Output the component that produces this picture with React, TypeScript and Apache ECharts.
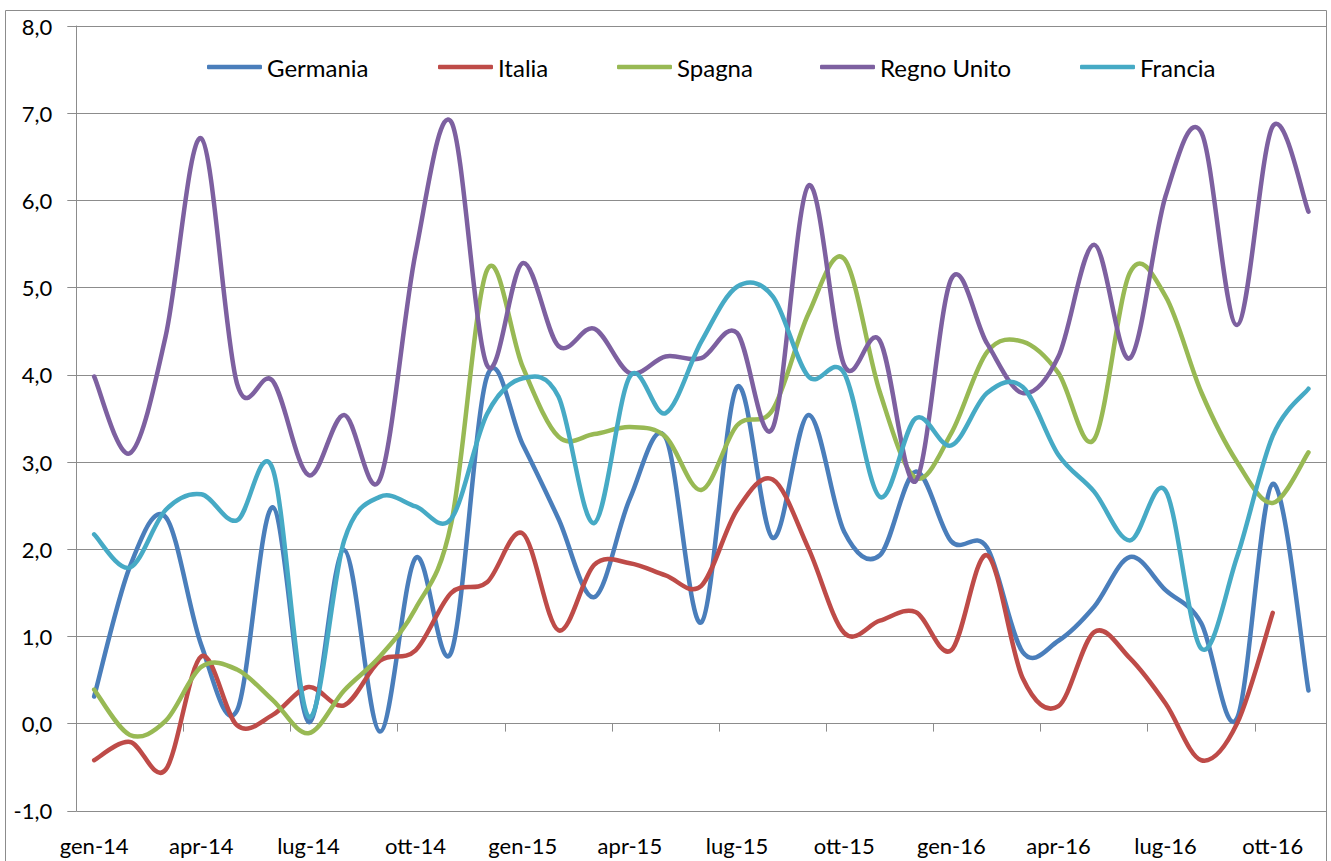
import React, { useEffect, useRef } from "react";
import * as echarts from "echarts";

const months = ["gen", "feb", "mar", "apr", "mag", "giu", "lug", "ago", "set", "ott", "nov", "dic"];
const categories: string[] = [];
for (const yy of ["14", "15", "16"]) for (const m of months) categories.push(`${m}-${yy}`);
categories.splice(35);

const seriesNames = ["Germania", "Italia", "Spagna", "Regno Unito", "Francia"];
const seriesColors = ["#4A7EBB", "#BE4B48", "#98B954", "#7D60A0", "#46AAC5"];

const germania = [0.31, 1.8, 2.37, 0.9, 0.15, 2.48, 0.02, 1.99, -0.09, 1.9, 0.82, 3.98, 3.2, 2.35, 1.45, 2.58, 3.28, 1.16, 3.86, 2.13, 3.54, 2.2, 1.93, 2.89, 2.09, 2.02, 0.82, 0.95, 1.34, 1.91, 1.53, 1.15, 0.06, 2.75, 0.38];
const italia = [-0.42, -0.21, -0.53, 0.77, -0.02, 0.1, 0.42, 0.21, 0.72, 0.84, 1.5, 1.62, 2.18, 1.07, 1.82, 1.84, 1.7, 1.58, 2.45, 2.8, 2.01, 1.04, 1.18, 1.28, 0.84, 1.93, 0.52, 0.2, 1.05, 0.75, 0.23, -0.42, 0.0, 1.27, null];
const spagna = [0.39, -0.13, 0.03, 0.65, 0.62, 0.27, -0.11, 0.38, 0.77, 1.32, 2.3, 5.2, 4.09, 3.29, 3.32, 3.4, 3.29, 2.68, 3.42, 3.6, 4.7, 5.33, 3.8, 2.82, 3.33, 4.26, 4.38, 4.02, 3.26, 5.17, 4.9, 3.8, 3.0, 2.53, 3.11];
const regnoUnito = [3.98, 3.1, 4.44, 6.71, 3.9, 3.93, 2.85, 3.54, 2.8, 5.4, 6.9, 4.11, 5.28, 4.33, 4.53, 4.02, 4.21, 4.19, 4.48, 3.39, 6.17, 4.11, 4.39, 2.78, 5.1, 4.36, 3.79, 4.21, 5.49, 4.19, 6.05, 6.78, 4.57, 6.85, 5.87];
const francia = [2.17, 1.79, 2.45, 2.63, 2.33, 2.92, 0.08, 2.1, 2.6, 2.49, 2.35, 3.55, 3.96, 3.75, 2.3, 3.98, 3.56, 4.38, 5.01, 4.9, 3.98, 4.02, 2.6, 3.5, 3.19, 3.79, 3.86, 3.08, 2.66, 2.1, 2.67, 0.86, 1.91, 3.3, 3.84];
const seriesData: (number | null)[][] = [germania, italia, spagna, regnoUnito, francia];

const yMin = -1;
const yMax = 8;
const yStep = 1;

const legendLeft = [207, 438, 617, 820, 1080];

const FONT = "Lato, Carlito, Calibri, 'DejaVu Sans', sans-serif";
const GRAY = "#8c8c8c";

// Catmull-Rom style smoothing (like a spreadsheet's smoothed line), through the axis scales
function smoothPath(pts: number[][]): string {
  if (pts.length === 0) return "";
  let d = `M${pts[0][0]},${pts[0][1]}`;
  for (let i = 0; i < pts.length - 1; i++) {
    const p0 = pts[i - 1] || pts[i];
    const p1 = pts[i];
    const p2 = pts[i + 1];
    const p3 = pts[i + 2] || pts[i + 1];
    const c1x = p1[0] + (p2[0] - p0[0]) / 6;
    const c1y = p1[1] + (p2[1] - p0[1]) / 6;
    const c2x = p2[0] - (p3[0] - p1[0]) / 6;
    const c2y = p2[1] - (p3[1] - p1[1]) / 6;
    d += ` C${c1x},${c1y} ${c2x},${c2y} ${p2[0]},${p2[1]}`;
  }
  return d;
}

export default function App() {
  const ref = useRef<HTMLDivElement>(null);
  useEffect(() => {
    if (!ref.current) return;
    const chart = echarts.init(ref.current, undefined, { renderer: "svg" });
    chart.setOption({
      animation: false,
      backgroundColor: "#ffffff",
      graphic: [
        {
          type: "rect",
          shape: { x: 5.5, y: 10.5, width: 1321, height: 900 },
          style: { fill: "none", stroke: GRAY, lineWidth: 1 },
          silent: true,
          z: 0,
        },
      ],
      legend: seriesNames.map((name, i) => ({
        data: [{ name, itemStyle: { color: seriesColors[i] } }],
        left: legendLeft[i],
        top: 55,
        itemWidth: 55,
        itemHeight: 4.5,
        icon: "roundRect",
        itemGap: 0,
        padding: 0,
        textStyle: { fontFamily: FONT, fontSize: 24, color: "#000" },
      })),
      grid: { left: 76.3, right: 4.7, top: 26, bottom: 50.2, containLabel: false },
      xAxis: [
        {
          type: "category",
          data: categories,
          boundaryGap: true,
          position: "bottom",
          axisLine: { show: true, onZero: true, lineStyle: { color: GRAY, width: 1 } },
          axisTick: { show: true, interval: 2, length: 8, lineStyle: { color: GRAY } },
          axisLabel: { show: false },
          splitLine: { show: false },
        },
        {
          type: "category",
          data: categories,
          boundaryGap: true,
          position: "bottom",
          axisLine: { show: false, onZero: false },
          axisTick: { show: false },
          axisLabel: {
            show: true,
            interval: 2,
            margin: 24,
            fontFamily: FONT,
            fontSize: 22,
            color: "#000",
          },
          splitLine: { show: false },
        },
      ],
      yAxis: {
        type: "value",
        min: yMin,
        max: yMax,
        interval: yStep,
        axisLine: { show: true, lineStyle: { color: GRAY, width: 1 } },
        axisTick: { show: true, inside: false, length: 9, lineStyle: { color: GRAY } },
        axisLabel: {
          margin: 24,
          fontFamily: FONT,
          fontSize: 22,
          color: "#000",
          formatter: (v: number) => v.toFixed(1).replace(".", ","),
        },
        splitLine: { show: true, lineStyle: { color: GRAY, width: 1 } },
      },
      series: seriesNames.map((name, si) => {
        const vals = seriesData[si];
        return {
          name,
          type: "custom",
          xAxisIndex: 0,
          yAxisIndex: 0,
          itemStyle: { color: seriesColors[si] },
          data: vals.map((v, i) => [i, v]),
          encode: { x: 0, y: 1 },
          renderItem: (params: any, api: any) => {
            if (params.dataIndex !== 0) return null;
            const pts: number[][] = [];
            vals.forEach((v, i) => {
              if (v !== null && v !== undefined) pts.push(api.coord([i, v]));
            });
            return {
              type: "path",
              shape: { pathData: smoothPath(pts) },
              style: {
                fill: "none",
                stroke: seriesColors[si],
                lineWidth: 4.5,
                lineCap: "round",
                lineJoin: "round",
              },
            };
          },
        };
      }),
    });
    return () => chart.dispose();
  }, []);
  return (
    <div
      ref={ref}
      style={{ position: "absolute", left: 0, top: 0, width: 1331, height: 861, background: "#fff" }}
    />
  );
}
